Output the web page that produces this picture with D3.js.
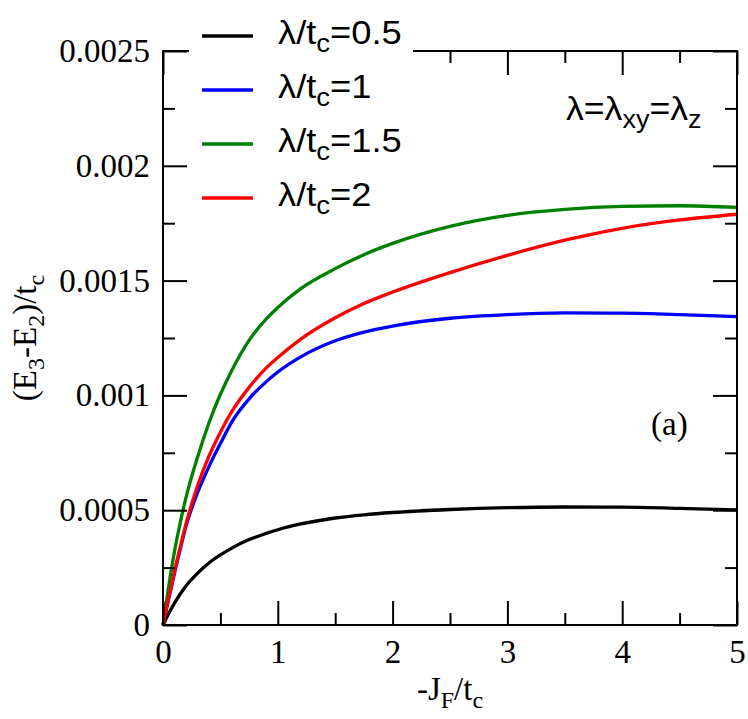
<!DOCTYPE html>
<html>
<head>
<meta charset="utf-8">
<script src="https://cdn.jsdelivr.net/npm/d3@7"></script>
<style>
  html, body { margin: 0; padding: 0; background: #fff; }
  svg { display: block; }
</style>
</head>
<body>
<svg id="chart" width="748" height="719"></svg>
<script>
// ---- data ----
const xs      = [0, 0.05, 0.1, 0.15, 0.2, 0.3, 0.4, 0.5, 0.6, 0.75, 0.9, 1.0, 1.2, 1.5, 1.75, 2.0, 2.5, 3.0, 3.5, 4.0, 4.5, 5.0];
const black05 = [0, 0.50, 0.95, 1.35, 1.70, 2.25, 2.70, 3.05, 3.35, 3.72, 3.99, 4.15, 4.40, 4.66, 4.80, 4.90, 5.03, 5.11, 5.14, 5.13, 5.08, 5.01];
const blue1   = [0, 1.15, 2.25, 3.30, 4.30, 5.75, 6.90, 7.90, 8.85, 9.85, 10.60, 11.02, 11.68, 12.38, 12.76, 13.02, 13.36, 13.52, 13.59, 13.58, 13.52, 13.43];
const green15 = [0, 1.70, 3.20, 4.45, 5.55, 7.30, 8.80, 10.05, 11.10, 12.40, 13.33, 13.83, 14.65, 15.52, 16.13, 16.62, 17.36, 17.84, 18.10, 18.23, 18.26, 18.19];
const red2    = [0, 1.20, 2.35, 3.40, 4.40, 6.05, 7.35, 8.40, 9.30, 10.35, 11.20, 11.65, 12.45, 13.38, 14.00, 14.50, 15.35, 16.10, 16.76, 17.28, 17.64, 17.89];
const valueScale = 1e-4; // series above are in units of 1e-4

const seriesNames = ["0.5", "1", "1.5", "2"];
const seriesColors = ["#000000", "#0000ff", "#008000", "#ff0000"];
const seriesValues = [black05, blue1, green15, red2];

const xMajor = [0, 1, 2, 3, 4, 5];
const xMinor = [0.5, 1.5, 2.5, 3.5, 4.5];
const xTickLabels = ["0", "1", "2", "3", "4", "5"];
const yMajor = [0, 0.0005, 0.001, 0.0015, 0.002, 0.0025];
const yMinor = [0.00025, 0.00075, 0.00125, 0.00175, 0.00225];
const yTickLabels = ["0", "0.0005", "0.001", "0.0015", "0.002", "0.0025"];

// ---- layout ----
const L = 163, R = 737, T = 51, B = 625;
const svg = d3.select("#chart");
const x = d3.scaleLinear().domain([0, 5]).range([L, R]);
const y = d3.scaleLinear().domain([0, 0.0025]).range([B, T]);

const serif = "'Liberation Serif', 'Times New Roman', serif";
const sans = "'Liberation Sans', Arial, Helvetica, sans-serif";
const MAJ = 24, MIN = 12;

function styleAxis(g) {
  g.select(".domain").remove();
  g.selectAll("line").attr("stroke", "#000").attr("stroke-width", 2);
  g.selectAll("text").attr("fill", "#000").attr("font-family", serif).attr("font-size", 33);
}

// curves
const line = d3.line().x((d, i) => x(xs[i])).y(d => y(d * valueScale)).curve(d3.curveMonotoneX);
seriesValues.forEach((vals, k) => {
  svg.append("path").datum(vals).attr("d", line)
    .attr("fill", "none").attr("stroke", seriesColors[k]).attr("stroke-width", 3.3)
    .attr("stroke-linejoin", "round");
});

// axes: bottom
svg.append("g").attr("transform", `translate(0,${B})`)
  .call(d3.axisBottom(x).tickValues(xMajor).tickSize(-MAJ).tickPadding(15)
        .tickFormat((d, i) => xTickLabels[i]))
  .call(styleAxis);
svg.append("g").attr("transform", `translate(0,${B})`)
  .call(d3.axisBottom(x).tickValues(xMinor).tickSize(-MIN).tickFormat(""))
  .call(styleAxis);
// top
svg.append("g").attr("transform", `translate(0,${T})`)
  .call(d3.axisTop(x).tickValues(xMajor).tickSize(-MAJ).tickFormat(""))
  .call(styleAxis);
svg.append("g").attr("transform", `translate(0,${T})`)
  .call(d3.axisTop(x).tickValues(xMinor).tickSize(-MIN).tickFormat(""))
  .call(styleAxis);
// left
svg.append("g").attr("transform", `translate(${L},0)`)
  .call(d3.axisLeft(y).tickValues(yMajor).tickSize(-MAJ).tickPadding(13)
        .tickFormat((d, i) => yTickLabels[i]))
  .call(styleAxis);
svg.append("g").attr("transform", `translate(${L},0)`)
  .call(d3.axisLeft(y).tickValues(yMinor).tickSize(-MIN).tickFormat(""))
  .call(styleAxis);
// right
svg.append("g").attr("transform", `translate(${R},0)`)
  .call(d3.axisRight(y).tickValues(yMajor).tickSize(-MAJ).tickFormat(""))
  .call(styleAxis);
svg.append("g").attr("transform", `translate(${R},0)`)
  .call(d3.axisRight(y).tickValues(yMinor).tickSize(-MIN).tickFormat(""))
  .call(styleAxis);

// frame
svg.append("rect").attr("x", L).attr("y", T).attr("width", R - L).attr("height", B - T)
  .attr("fill", "none").attr("stroke", "#000").attr("stroke-width", 2);

// legend (white box covers frame)
const lg = svg.append("g");
lg.append("rect").attr("x", 189).attr("y", 0).attr("width", 224).attr("height", 222).attr("fill", "#fff");
seriesNames.forEach((n, k) => {
  const cy = 36 + k * 54;
  lg.append("line").attr("x1", 202).attr("x2", 253).attr("y1", cy).attr("y2", cy)
    .attr("stroke", seriesColors[k]).attr("stroke-width", 3.3);
  const t = lg.append("text").attr("transform", `translate(278,${cy + 8}) scale(1.1,1)`)
    .attr("font-family", sans).attr("font-size", 33).attr("fill", "#000");
  t.append("tspan").text("λ/t");
  t.append("tspan").attr("font-size", 25).attr("dy", 8).text("c");
  t.append("tspan").attr("dy", -8).text("=" + n);
});

// annotation
const ann = svg.append("text").attr("transform", "translate(566,120) scale(1.08,1)")
  .attr("font-family", sans).attr("font-size", 33).attr("fill", "#000");
ann.append("tspan").text("λ=λ");
ann.append("tspan").attr("font-size", 25).attr("dy", 8).text("xy");
ann.append("tspan").attr("dy", -8).text("=λ");
ann.append("tspan").attr("font-size", 25).attr("dy", 8).text("z");

svg.append("text").attr("x", 651).attr("y", 435)
  .attr("font-family", serif).attr("font-size", 33).attr("fill", "#000").text("(a)");

// x title
const xt = svg.append("text").attr("x", (L + R) / 2).attr("y", 700).attr("text-anchor", "middle")
  .attr("font-family", serif).attr("font-size", 33).attr("fill", "#000");
xt.append("tspan").text("-J");
xt.append("tspan").attr("font-size", 24).attr("dy", 8).text("F");
xt.append("tspan").attr("dy", -8).text("/t");
xt.append("tspan").attr("font-size", 24).attr("dy", 8).text("c");

// y title
const yt = svg.append("text").attr("transform", `translate(36,${(T + B) / 2}) rotate(-90)`)
  .attr("text-anchor", "middle")
  .attr("font-family", serif).attr("font-size", 33).attr("fill", "#000");
yt.append("tspan").text("(E");
yt.append("tspan").attr("font-size", 24).attr("dy", 8).text("3");
yt.append("tspan").attr("dy", -8).text("-E");
yt.append("tspan").attr("font-size", 24).attr("dy", 8).text("2");
yt.append("tspan").attr("dy", -8).text(")/t");
yt.append("tspan").attr("font-size", 24).attr("dy", 8).text("c");
</script>
</body>
</html>
